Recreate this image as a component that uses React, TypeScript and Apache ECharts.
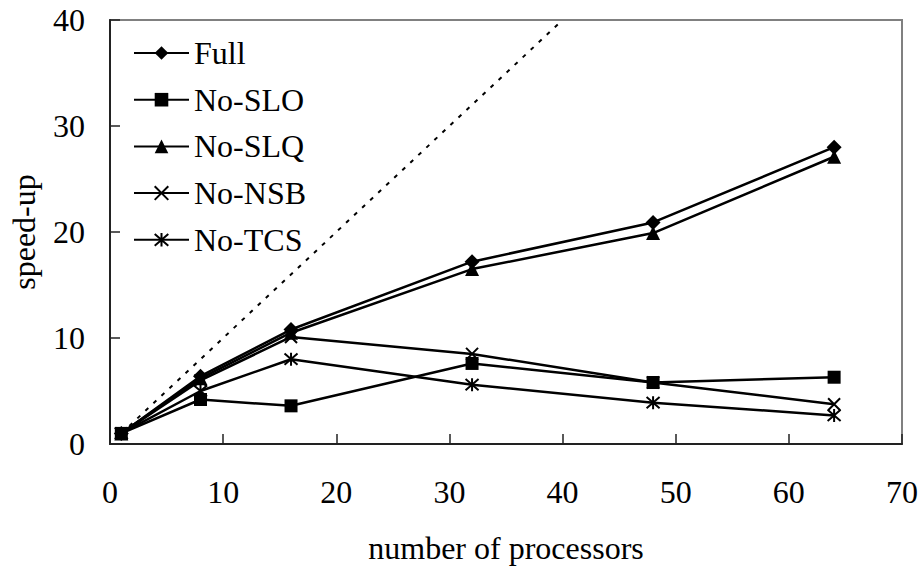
import React, { useEffect, useRef } from "react";
import * as echarts from "echarts";

const processors = [1, 8, 16, 32, 48, 64];
const full = [1, 6.4, 10.8, 17.2, 20.9, 28.0];
const noSLO = [1, 4.2, 3.6, 7.6, 5.8, 6.3];
const noSLQ = [1, 6.2, 10.5, 16.5, 19.9, 27.1];
const noNSB = [1, 6.0, 10.1, 8.5, 5.8, 3.75];
const noTCS = [1, 5.0, 8.0, 5.6, 3.9, 2.7];
const idealX = [1, 40];
const idealY = [1, 40];
const seriesNames = ["Full", "No-SLO", "No-SLQ", "No-NSB", "No-TCS"];

const FONT = "'Liberation Serif', 'Times New Roman', serif";
const FS = 32;

const pair = (xs: number[], ys: number[]) => xs.map((x, i) => [x, ys[i]]);

const X_SYM = "path://M0,0L10,10M10,0L0,10";
const STAR_SYM = "path://M5,0L5,10M0.7,0.7L9.3,9.3M9.3,0.7L0.7,9.3";

export default function App() {
  const ref = useRef<HTMLDivElement>(null);
  useEffect(() => {
    if (!ref.current) return;
    const chart = echarts.init(ref.current, null, { renderer: "svg" });
    const mk = (name: string, ys: number[], symbol: string, size: number, stroke: boolean) => ({
      name,
      type: "line",
      data: pair(processors, ys),
      symbol,
      symbolSize: size,
      showAllSymbol: true,
      lineStyle: { color: "#000", width: 2.5 },
      itemStyle: stroke
        ? { color: "#000", borderColor: "#000", borderWidth: 2 }
        : { color: "#000", borderWidth: 0 },
      emphasis: { disabled: true },
    });
    chart.setOption({
      animation: false,
      backgroundColor: "#fff",
      textStyle: { fontFamily: FONT, color: "#000" },
      grid: {
        left: 107,
        right: 20,
        top: 20,
        bottom: 124,
        show: true,
        borderColor: "#808080",
        borderWidth: 2,
        backgroundColor: "transparent",
      },
      legend: {
        data: seriesNames,
        orient: "vertical",
        left: 128,
        top: 32,
        itemWidth: 55,
        itemHeight: 17,
        itemGap: 14.7,
        textStyle: { fontFamily: FONT, fontSize: FS, color: "#000", lineHeight: 32 },
        selectedMode: false,
      },
      xAxis: {
        type: "value",
        min: 0,
        max: 70,
        interval: 10,
        name: "number of processors",
        nameLocation: "middle",
        nameGap: 88,
        nameTextStyle: { fontFamily: FONT, fontSize: FS, color: "#000" },
        axisLine: { onZero: false, lineStyle: { color: "#222", width: 2 } },
        axisTick: { inside: true, length: 10, lineStyle: { color: "#222", width: 1.5 } },
        axisLabel: { fontFamily: FONT, fontSize: FS, color: "#000", margin: 32 },
        splitLine: { show: false },
      },
      yAxis: {
        type: "value",
        min: 0,
        max: 40,
        interval: 10,
        name: "speed-up",
        nameLocation: "middle",
        nameGap: 70,
        nameRotate: 90,
        nameTextStyle: { fontFamily: FONT, fontSize: FS, color: "#000" },
        axisLine: { show: true, onZero: false, lineStyle: { color: "#222", width: 2 } },
        axisTick: { show: true, inside: true, length: 10, lineStyle: { color: "#222", width: 1.5 } },
        axisLabel: { fontFamily: FONT, fontSize: FS, color: "#000", margin: 25 },
        splitLine: { show: false },
      },
      series: [
        {
          name: "ideal",
          type: "line",
          data: pair(idealX, idealY),
          symbol: "none",
          lineStyle: { color: "#000", width: 2, type: [4, 7] },
          emphasis: { disabled: true },
          z: 1,
        },
        mk("No-TCS", noTCS, STAR_SYM, 13, true),
        mk("No-NSB", noNSB, X_SYM, 12, true),
        mk("No-SLO", noSLO, "rect", 13, false),
        mk("No-SLQ", noSLQ, "triangle", 14, false),
        mk("Full", full, "diamond", 15, false),
      ],
    });
    return () => chart.dispose();
  }, []);
  return (
    <div
      ref={ref}
      style={{ position: "fixed", left: 0, top: 0, width: 922, height: 569, background: "#fff" }}
    />
  );
}
